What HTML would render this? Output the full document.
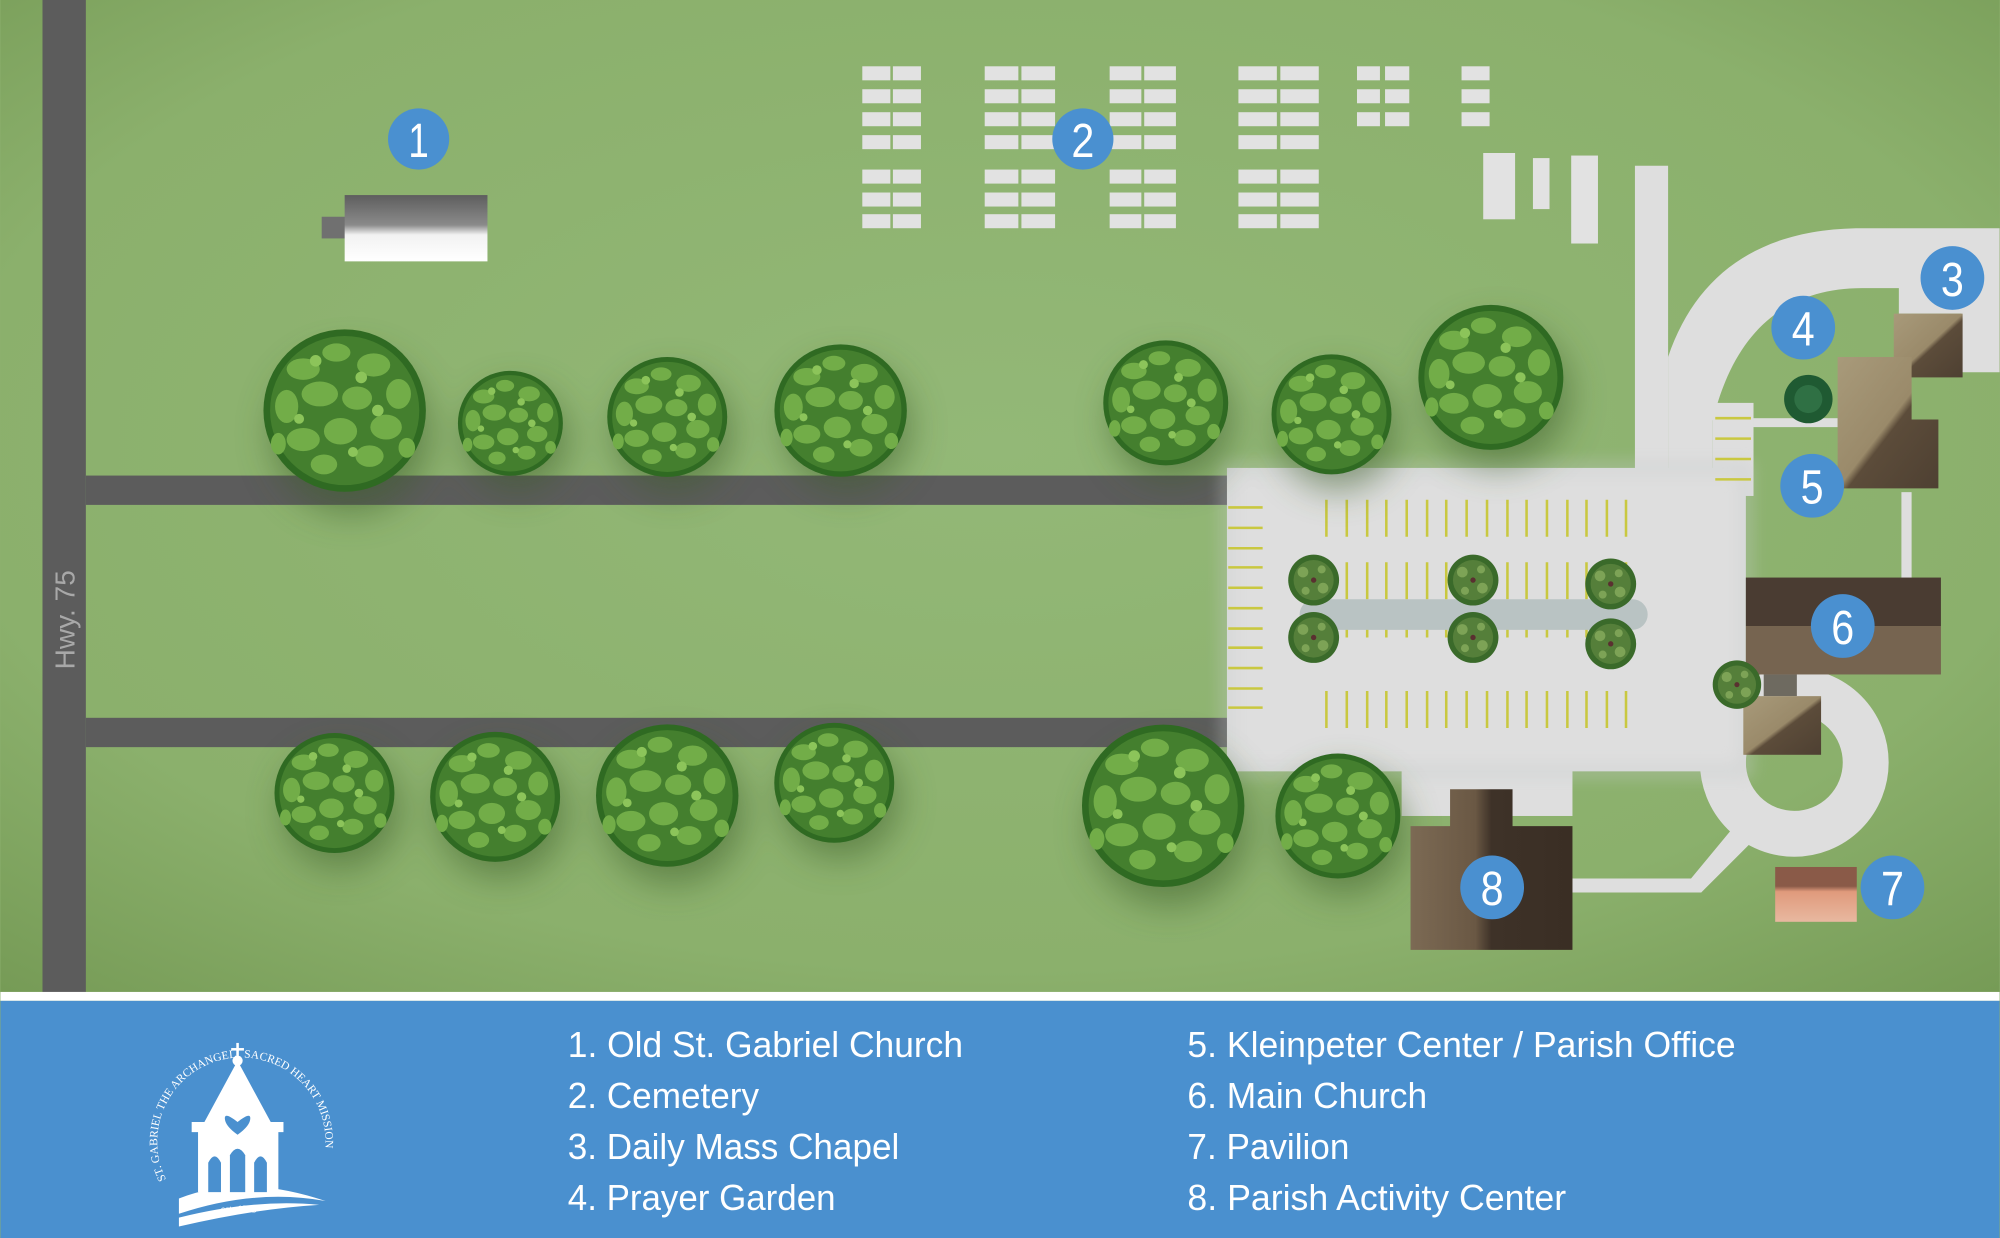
<!DOCTYPE html>
<html><head><meta charset="utf-8"><style>html,body{margin:0;padding:0;background:#8cb06e}svg{display:block}</style></head><body>
<svg width="2000" height="1238" viewBox="0 0 1568 971" xmlns="http://www.w3.org/2000/svg" font-family="Liberation Sans, sans-serif">
<defs>
<radialGradient id="bg" cx="50%" cy="45%" r="75%"><stop offset="0" stop-color="#93b877"/><stop offset="0.7" stop-color="#8bb06c"/><stop offset="1" stop-color="#759a55"/></radialGradient>
<filter id="bl" x="-50%" y="-50%" width="200%" height="200%"><feGaussianBlur stdDeviation="14"/></filter>
<filter id="bl2" x="-50%" y="-50%" width="200%" height="200%"><feGaussianBlur stdDeviation="6"/></filter>
<symbol id="tree" viewBox="-1 -1 2 2">
<circle r="0.98" fill="#2f6a22"/>
<circle r="0.9" fill="#447f2e"/>
<g fill="#72ad48">
<ellipse cx="-0.5" cy="-0.5" rx="0.2" ry="0.13"/><ellipse cx="-0.1" cy="-0.7" rx="0.17" ry="0.11"/><ellipse cx="0.35" cy="-0.55" rx="0.2" ry="0.14"/>
<ellipse cx="0.65" cy="-0.2" rx="0.15" ry="0.18"/><ellipse cx="-0.7" cy="-0.05" rx="0.14" ry="0.2"/><ellipse cx="-0.3" cy="-0.2" rx="0.22" ry="0.15"/>
<ellipse cx="0.15" cy="-0.15" rx="0.18" ry="0.14"/><ellipse cx="0.5" cy="0.2" rx="0.19" ry="0.15"/><ellipse cx="-0.5" cy="0.35" rx="0.2" ry="0.14"/>
<ellipse cx="-0.05" cy="0.25" rx="0.2" ry="0.16"/><ellipse cx="0.3" cy="0.55" rx="0.17" ry="0.13"/><ellipse cx="-0.25" cy="0.65" rx="0.16" ry="0.12"/>
<ellipse cx="0.75" cy="0.45" rx="0.1" ry="0.12"/><ellipse cx="-0.8" cy="0.4" rx="0.09" ry="0.13"/></g>
<g fill="#8cc45a"><circle cx="-0.35" cy="-0.6" r="0.07"/><circle cx="0.2" cy="-0.4" r="0.07"/><circle cx="-0.55" cy="0.1" r="0.06"/><circle cx="0.4" cy="0" r="0.07"/><circle cx="0.1" cy="0.5" r="0.06"/></g>
</symbol>
<symbol id="stree" viewBox="-1 -1 2 2">
<circle r="0.95" fill="#3a6a2a"/><circle r="0.75" fill="#557f3a"/>
<g fill="#7da356"><circle cx="-0.4" cy="-0.3" r="0.2"/><circle cx="0.35" cy="0.3" r="0.2"/><circle cx="0.3" cy="-0.4" r="0.15"/><circle cx="-0.3" cy="0.4" r="0.15"/></g>
<circle r="0.1" fill="#5a3030"/>
</symbol>
<linearGradient id="b1" x1="0" y1="0" x2="0" y2="1"><stop offset="0" stop-color="#5e5e5e"/><stop offset="0.45" stop-color="#8a8a8a"/><stop offset="0.6" stop-color="#f2f2f2"/><stop offset="1" stop-color="#fff"/></linearGradient>
<linearGradient id="tan" x1="0" y1="0" x2="1" y2="1"><stop offset="0" stop-color="#a89a7a"/><stop offset="0.5" stop-color="#9a8a6a"/><stop offset="0.55" stop-color="#5c4c3a"/><stop offset="1" stop-color="#4e4032"/></linearGradient>
<linearGradient id="b8" x1="0" y1="0" x2="1" y2="0"><stop offset="0" stop-color="#7c6a54"/><stop offset="0.4" stop-color="#6a5844"/><stop offset="0.5" stop-color="#3e3228"/><stop offset="1" stop-color="#3a2e24"/></linearGradient>
<linearGradient id="b7" x1="0" y1="0" x2="0" y2="1"><stop offset="0" stop-color="#8a5a48"/><stop offset="0.35" stop-color="#8a5a48"/><stop offset="0.45" stop-color="#e09a7c"/><stop offset="1" stop-color="#e8b8a0"/></linearGradient>
<path id="arc" d="M 130 925 A 66 66 0 1 1 248 925"/>
</defs>
<rect width="1568" height="780" fill="url(#bg)"/>
<rect x="33" y="0" width="34" height="780" fill="#5c5c5c"/>
<text transform="translate(58,525) rotate(-90)" font-size="22" fill="#a8a8a8">Hwy. 75</text>
<rect x="67" y="373" width="900" height="23" fill="#5c5c5c"/>
<rect x="67" y="563" width="900" height="23" fill="#5c5c5c"/>
<rect x="252" y="170" width="22" height="17" fill="#707070"/>
<rect x="270" y="153" width="112" height="52" fill="url(#b1)"/>
<g fill="#e2e2e2">
<g id="g1"><rect x="676" y="52" width="22" height="11"/><rect x="700" y="52" width="22" height="11"/><rect x="676" y="70" width="22" height="11"/><rect x="700" y="70" width="22" height="11"/><rect x="676" y="88" width="22" height="11"/><rect x="700" y="88" width="22" height="11"/><rect x="676" y="106" width="22" height="11"/><rect x="700" y="106" width="22" height="11"/>
<rect x="676" y="133" width="22" height="11"/><rect x="700" y="133" width="22" height="11"/><rect x="676" y="151" width="22" height="11"/><rect x="700" y="151" width="22" height="11"/><rect x="676" y="168" width="22" height="11"/><rect x="700" y="168" width="22" height="11"/></g>
<use href="#g1" transform="translate(772,0) scale(1.2,1) translate(-676,0)"/>
<use href="#g1" transform="translate(870,0) scale(1.13,1) translate(-676,0)"/>
<use href="#g1" transform="translate(971,0) scale(1.37,1) translate(-676,0)"/>
<rect x="1064" y="52" width="18" height="11"/><rect x="1086" y="52" width="19" height="11"/><rect x="1064" y="70" width="18" height="11"/><rect x="1086" y="70" width="19" height="11"/><rect x="1064" y="88" width="18" height="11"/><rect x="1086" y="88" width="19" height="11"/>
<rect x="1146" y="52" width="22" height="11"/><rect x="1146" y="70" width="22" height="11"/><rect x="1146" y="88" width="22" height="11"/>
<rect x="1163" y="120" width="25" height="52"/><rect x="1202" y="124" width="13" height="40"/><rect x="1232" y="122" width="21" height="69"/>
</g>
<g fill="#dedede">
<rect x="1282" y="130" width="26" height="240"/>
<path d="M1308,280 C1330,215 1380,179 1460,179 L1568,179 L1568,292 L1538,292 L1538,246 L1489,246 L1489,226 L1460,226 C1400,226 1360,260 1343,330 L1343,370 L1308,370 Z"/>
<rect x="1343" y="316" width="32" height="73"/>
<rect x="1375" y="328" width="66" height="7"/>
<rect x="1491" y="386" width="8" height="68"/>
<rect x="962" y="367" width="407" height="238"/>
<rect x="1099" y="600" width="134" height="40"/>
<circle cx="1407" cy="598" r="56" fill="none" stroke="#dedede" stroke-width="36"/>
<path d="M1360,648 L1374,660 L1334,700 L1233,700 L1233,689 L1326,689 Z"/>
</g>
<rect x="962" y="367" width="407" height="238" fill="none" stroke="#c8cccc" stroke-width="10" opacity="0.4" filter="url(#bl2)"/>
<g stroke="#c9c840" stroke-width="2">
<path d="M963,398H990M963,414H990M963,430H990M963,445H990M963,461H990M963,477H990M963,493H990M963,508H990M963,524H990M963,540H990M963,555H990"/>
<path d="M1345,328H1373M1345,344H1373M1345,360H1373M1345,376H1373"/>
<g id="cols"><path d="M1040,392V421M1056,392V421M1072,392V421M1087,392V421M1103,392V421M1119,392V421M1134,392V421M1150,392V421M1166,392V421M1182,392V421M1197,392V421M1213,392V421M1229,392V421M1244,392V421M1260,392V421M1275,392V421"/></g>
<use href="#cols" y="49"/>
<use href="#cols" y="79"/>
<use href="#cols" y="150"/>
</g>
<rect x="1019" y="470" width="273" height="24" rx="12" fill="#b9c3c3"/>
<g fill="#3e5e2a" opacity="0.55" filter="url(#bl)">
<circle cx="275" cy="340" r="62"/><circle cx="405" cy="345" r="40"/><circle cx="528" cy="340" r="46"/><circle cx="664" cy="335" r="50"/><circle cx="919" cy="330" r="48"/><circle cx="1049" cy="338" r="46"/><circle cx="1175" cy="310" r="56"/>
<circle cx="267" cy="635" r="46"/><circle cx="393" cy="638" r="50"/><circle cx="528" cy="638" r="55"/><circle cx="659" cy="627" r="46"/><circle cx="917" cy="648" r="62"/><circle cx="1054" cy="653" r="48"/>
</g>
<use href="#tree" x="205" y="257" width="130" height="130"/>
<use href="#tree" x="358" y="290" width="84" height="84"/>
<use href="#tree" x="475" y="279" width="96" height="96"/>
<use href="#tree" x="606" y="269" width="106" height="106"/>
<use href="#tree" x="864" y="266" width="100" height="100"/>
<use href="#tree" x="996" y="277" width="96" height="96"/>
<use href="#tree" x="1111" y="238" width="116" height="116"/>
<use href="#tree" x="214" y="574" width="96" height="96"/>
<use href="#tree" x="336" y="573" width="104" height="104"/>
<use href="#tree" x="466" y="567" width="114" height="114"/>
<use href="#tree" x="606" y="566" width="96" height="96"/>
<use href="#tree" x="847" y="567" width="130" height="130"/>
<use href="#tree" x="999" y="590" width="100" height="100"/>
<rect x="1485" y="246" width="54" height="50" fill="url(#tan)"/>
<path d="M1441,280H1499V329H1520V383H1441Z" fill="url(#tan)"/>
<rect x="1369" y="453" width="153" height="38" fill="#4a3c32"/>
<rect x="1369" y="491" width="153" height="38" fill="#766450"/>
<rect x="1383" y="529" width="26" height="17" fill="#6e6a60"/>
<rect x="1367" y="546" width="61" height="46" fill="url(#tan)"/>
<rect x="1392" y="680" width="64" height="43" fill="url(#b7)"/>
<path d="M1137,619H1186V648H1233V745H1106V648H1137Z" fill="url(#b8)"/>
<use href="#stree" x="1009" y="434" width="42" height="42"/>
<use href="#stree" x="1009" y="479" width="42" height="42"/>
<use href="#stree" x="1134" y="434" width="42" height="42"/>
<use href="#stree" x="1134" y="479" width="42" height="42"/>
<use href="#stree" x="1242" y="437" width="42" height="42"/>
<use href="#stree" x="1242" y="484" width="42" height="42"/>
<use href="#stree" x="1342" y="517" width="40" height="40"/>
<circle cx="1418" cy="313" r="19" fill="#1f5a32"/><circle cx="1418" cy="313" r="11" fill="#2f7044"/>
<g fill="#4a90d0"><circle cx="328" cy="109" r="24"/><circle cx="849" cy="109" r="24"/><circle cx="1531" cy="218" r="25"/><circle cx="1414" cy="257" r="25"/><circle cx="1421" cy="381" r="25"/><circle cx="1445" cy="491" r="25"/><circle cx="1484" cy="696" r="25"/><circle cx="1170" cy="696" r="25"/></g>
<g fill="#fff" font-size="38" text-anchor="middle">
<text x="328" y="123" textLength="16" lengthAdjust="spacingAndGlyphs">1</text>
<text x="849" y="123" textLength="18" lengthAdjust="spacingAndGlyphs">2</text>
<text x="1531" y="232" textLength="18" lengthAdjust="spacingAndGlyphs">3</text>
<text x="1414" y="271" textLength="18" lengthAdjust="spacingAndGlyphs">4</text>
<text x="1421" y="395" textLength="18" lengthAdjust="spacingAndGlyphs">5</text>
<text x="1445" y="505" textLength="18" lengthAdjust="spacingAndGlyphs">6</text>
<text x="1484" y="710" textLength="18" lengthAdjust="spacingAndGlyphs">7</text>
<text x="1170" y="710" textLength="18" lengthAdjust="spacingAndGlyphs">8</text>
</g>
<rect x="0" y="778" width="1568" height="7" fill="#fff"/>
<rect x="0" y="785" width="1568" height="186" fill="#4a90cf"/>
<g fill="#fff" font-size="28">
<text x="445" y="829" textLength="310" lengthAdjust="spacingAndGlyphs">1. Old St. Gabriel Church</text>
<text x="445" y="869" textLength="150" lengthAdjust="spacingAndGlyphs">2. Cemetery</text>
<text x="445" y="909" textLength="260" lengthAdjust="spacingAndGlyphs">3. Daily Mass Chapel</text>
<text x="445" y="949" textLength="210" lengthAdjust="spacingAndGlyphs">4. Prayer Garden</text>
<text x="931" y="829" textLength="430" lengthAdjust="spacingAndGlyphs">5. Kleinpeter Center / Parish Office</text>
<text x="931" y="869" textLength="188" lengthAdjust="spacingAndGlyphs">6. Main Church</text>
<text x="931" y="909" textLength="127" lengthAdjust="spacingAndGlyphs">7. Pavilion</text>
<text x="931" y="949" textLength="297" lengthAdjust="spacingAndGlyphs">8. Parish Activity Center</text>
</g>
<g fill="#fff">
<text font-family="Liberation Serif, serif" font-size="9"><textPath href="#arc">ST. GABRIEL THE ARCHANGEL . SACRED HEART MISSION</textPath></text>
<path d="M186,832 L212,880 L222,880 L222,888 L218,888 L218,935 L155,935 L155,888 L150,888 L150,880 L160,880 Z"/>
<circle cx="186" cy="832" r="4"/>
<rect x="185" y="818" width="2" height="11"/><rect x="181" y="822" width="10" height="2"/>
<path d="M140,940 Q190,920 255,942 Q200,932 140,952 Z"/>
<path d="M140,955 Q200,940 250,945 Q200,948 140,962 Z"/>
<text x="187" y="951" font-family="Liberation Serif, serif" font-style="italic" font-size="8" text-anchor="middle">est. 1773</text>
</g>
<g fill="#4a90cf">
<path d="M163,935 V912 Q168,902 173,912 V935Z"/><path d="M180,935 V906 Q186,896 192,906 V935Z"/><path d="M199,935 V912 Q204,902 209,912 V935Z"/>
<path d="M186,880 q-10,-8 -10,-3 q0,6 10,13 q10,-7 10,-13 q0,-5 -10,3Z"/>
</g>
</svg>
</body></html>
